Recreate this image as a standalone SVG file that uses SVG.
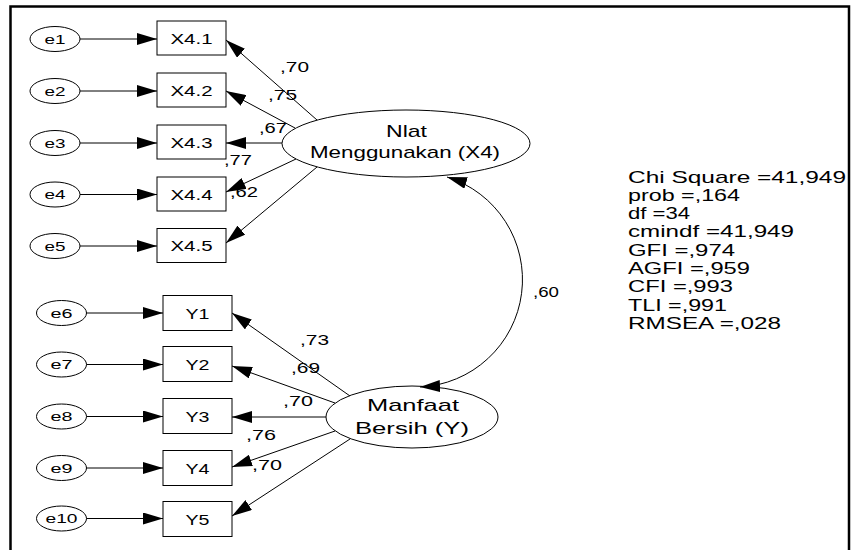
<svg xmlns="http://www.w3.org/2000/svg" width="851" height="550" viewBox="0 0 851 550">
<defs>
<marker id="ah" markerUnits="userSpaceOnUse" viewBox="0 0 20 12" markerWidth="20" markerHeight="12" refX="20" refY="6" orient="auto-start-reverse">
<path d="M0,0 L20,6 L0,12 z" fill="#000"/>
</marker>
<style>
.n{fill:#fff;stroke:#000;stroke-width:1}
.t{font-family:"Liberation Sans",Arial,sans-serif;fill:#000}
.e{font-size:13px;text-anchor:middle}
.b{font-size:15px;text-anchor:middle}
.l{font-size:15px}
.big{font-size:17px;text-anchor:middle}
.s{font-size:17px}
.c line,.c path{stroke:#000;stroke-width:1;fill:none;marker-end:url(#ah)}
</style>
</defs>
<rect width="851" height="550" fill="#fff"/>
<path d="M10.5,552 V6.5 H849 V552" fill="none" stroke="#000" stroke-width="2.5"/>

<g id="e1"><ellipse class="n" cx="55" cy="39" rx="25" ry="12.5"/><text class="t e" x="55" y="43.5" textLength="21" lengthAdjust="spacingAndGlyphs">e1</text></g>
<g id="e2"><ellipse class="n" cx="55" cy="91" rx="25" ry="12.5"/><text class="t e" x="55" y="95.5" textLength="21" lengthAdjust="spacingAndGlyphs">e2</text></g>
<g id="e3"><ellipse class="n" cx="55" cy="143" rx="25" ry="12.5"/><text class="t e" x="55" y="147.5" textLength="21" lengthAdjust="spacingAndGlyphs">e3</text></g>
<g id="e4"><ellipse class="n" cx="55" cy="194.5" rx="25" ry="12.5"/><text class="t e" x="55" y="199" textLength="21" lengthAdjust="spacingAndGlyphs">e4</text></g>
<g id="e5"><ellipse class="n" cx="55" cy="246" rx="25" ry="12.5"/><text class="t e" x="55" y="250.5" textLength="21" lengthAdjust="spacingAndGlyphs">e5</text></g>

<g id="X4.1"><rect class="n" x="157" y="21" width="69" height="34"/><text class="t b" x="191.5" y="43.5" textLength="42" lengthAdjust="spacingAndGlyphs">X4.1</text></g>
<g id="X4.2"><rect class="n" x="157" y="73" width="69" height="34"/><text class="t b" x="191.5" y="95.5" textLength="42" lengthAdjust="spacingAndGlyphs">X4.2</text></g>
<g id="X4.3"><rect class="n" x="157" y="125" width="69" height="34"/><text class="t b" x="191.5" y="147.5" textLength="42" lengthAdjust="spacingAndGlyphs">X4.3</text></g>
<g id="X4.4"><rect class="n" x="157" y="177" width="69" height="34"/><text class="t b" x="191.5" y="199.5" textLength="42" lengthAdjust="spacingAndGlyphs">X4.4</text></g>
<g id="X4.5"><rect class="n" x="157" y="228.5" width="69" height="34"/><text class="t b" x="191.5" y="251" textLength="42" lengthAdjust="spacingAndGlyphs">X4.5</text></g>

<g id="e6"><ellipse class="n" cx="61.5" cy="313" rx="25" ry="12.5"/><text class="t e" x="61.5" y="317.5" textLength="22" lengthAdjust="spacingAndGlyphs">e6</text></g>
<g id="e7"><ellipse class="n" cx="61.5" cy="364.5" rx="25" ry="12.5"/><text class="t e" x="61.5" y="369" textLength="22" lengthAdjust="spacingAndGlyphs">e7</text></g>
<g id="e8"><ellipse class="n" cx="61.5" cy="416.5" rx="25" ry="12.5"/><text class="t e" x="61.5" y="421" textLength="22" lengthAdjust="spacingAndGlyphs">e8</text></g>
<g id="e9"><ellipse class="n" cx="61.5" cy="468" rx="25" ry="12.5"/><text class="t e" x="61.5" y="472.5" textLength="22" lengthAdjust="spacingAndGlyphs">e9</text></g>
<g id="e10"><ellipse class="n" cx="61.5" cy="518.5" rx="25" ry="12.5"/><text class="t e" x="61.5" y="523" textLength="32" lengthAdjust="spacingAndGlyphs">e10</text></g>

<g id="Y1"><rect class="n" x="163" y="295.5" width="69" height="35"/><text class="t b" x="197.5" y="318.5" textLength="24" lengthAdjust="spacingAndGlyphs">Y1</text></g>
<g id="Y2"><rect class="n" x="163" y="346.5" width="69" height="35"/><text class="t b" x="197.5" y="369.5" textLength="24" lengthAdjust="spacingAndGlyphs">Y2</text></g>
<g id="Y3"><rect class="n" x="163" y="398.5" width="69" height="35"/><text class="t b" x="197.5" y="421.5" textLength="24" lengthAdjust="spacingAndGlyphs">Y3</text></g>
<g id="Y4"><rect class="n" x="163" y="450.5" width="69" height="35"/><text class="t b" x="197.5" y="473.5" textLength="24" lengthAdjust="spacingAndGlyphs">Y4</text></g>
<g id="Y5"><rect class="n" x="163" y="501.5" width="69" height="35"/><text class="t b" x="197.5" y="524.5" textLength="24" lengthAdjust="spacingAndGlyphs">Y5</text></g>

<g id="X4"><ellipse class="n" cx="406" cy="143.5" rx="124" ry="33.5"/><text class="t big" x="406.5" y="137" textLength="41" lengthAdjust="spacingAndGlyphs">Nlat</text><text class="t big" x="405" y="158" textLength="190" lengthAdjust="spacingAndGlyphs">Menggunakan (X4)</text></g>
<g id="Y"><ellipse class="n" cx="412" cy="417" rx="86" ry="31"/><text class="t big" x="413" y="411" textLength="92" lengthAdjust="spacingAndGlyphs">Manfaat</text><text class="t big" x="412" y="434" textLength="114" lengthAdjust="spacingAndGlyphs">Bersih (Y)</text></g>

<g id="connectors" class="c">
<line x1="80" y1="39" x2="157" y2="39"/>
<line x1="80" y1="91" x2="157" y2="91"/>
<line x1="80" y1="143" x2="157" y2="143"/>
<line x1="80" y1="194.5" x2="157" y2="194.5"/>
<line x1="80" y1="246" x2="157" y2="246"/>
<line x1="86.5" y1="313" x2="163" y2="313"/>
<line x1="86.5" y1="364.5" x2="163" y2="364.5"/>
<line x1="86.5" y1="416.5" x2="163" y2="416.5"/>
<line x1="86.5" y1="468" x2="163" y2="468"/>
<line x1="86.5" y1="518.5" x2="163" y2="518.5"/>
<line x1="317" y1="120" x2="226" y2="40"/>
<line x1="295" y1="128" x2="226" y2="91"/>
<line x1="282" y1="143" x2="226" y2="143"/>
<line x1="296" y1="159" x2="226" y2="192"/>
<line x1="317" y1="167" x2="226" y2="243"/>
<line x1="350" y1="396" x2="232" y2="313"/>
<line x1="335" y1="403" x2="232" y2="366"/>
<line x1="326" y1="417" x2="232" y2="417"/>
<line x1="335" y1="431" x2="232" y2="467"/>
<line x1="350" y1="439" x2="232" y2="516"/>
<path d="M447,177 A107.5,107.5 0 0 1 420,387" style="marker-start:url(#ah)"/>
</g>

<g id="labels" class="t l">
<text x="280" y="72" textLength="29" lengthAdjust="spacingAndGlyphs">,70</text>
<text x="268" y="100" textLength="29" lengthAdjust="spacingAndGlyphs">,75</text>
<text x="259" y="133" textLength="28" lengthAdjust="spacingAndGlyphs">,67</text>
<text x="224" y="165" textLength="28" lengthAdjust="spacingAndGlyphs">,77</text>
<text x="230" y="196.5" textLength="28" lengthAdjust="spacingAndGlyphs">,62</text>
<text x="533" y="297" textLength="26" lengthAdjust="spacingAndGlyphs">,60</text>
<text x="300" y="345" textLength="29" lengthAdjust="spacingAndGlyphs">,73</text>
<text x="291" y="373" textLength="29" lengthAdjust="spacingAndGlyphs">,69</text>
<text x="283" y="406" textLength="30" lengthAdjust="spacingAndGlyphs">,70</text>
<text x="246" y="440" textLength="30" lengthAdjust="spacingAndGlyphs">,76</text>
<text x="252" y="470" textLength="30" lengthAdjust="spacingAndGlyphs">,70</text>
</g>

<g id="fit" class="t s">
<text x="628" y="182.5" textLength="218" lengthAdjust="spacingAndGlyphs">Chi Square =41,949</text>
<text x="628" y="200.8" textLength="112" lengthAdjust="spacingAndGlyphs">prob =,164</text>
<text x="628" y="219.1" textLength="62" lengthAdjust="spacingAndGlyphs">df =34</text>
<text x="628" y="237.4" textLength="166" lengthAdjust="spacingAndGlyphs">cmindf =41,949</text>
<text x="628" y="255.7" textLength="107" lengthAdjust="spacingAndGlyphs">GFI =,974</text>
<text x="628" y="274" textLength="122" lengthAdjust="spacingAndGlyphs">AGFI =,959</text>
<text x="628" y="292.3" textLength="105" lengthAdjust="spacingAndGlyphs">CFI =,993</text>
<text x="628" y="310.6" textLength="99" lengthAdjust="spacingAndGlyphs">TLI =,991</text>
<text x="628" y="328.9" textLength="153" lengthAdjust="spacingAndGlyphs">RMSEA =,028</text>
</g>
</svg>
